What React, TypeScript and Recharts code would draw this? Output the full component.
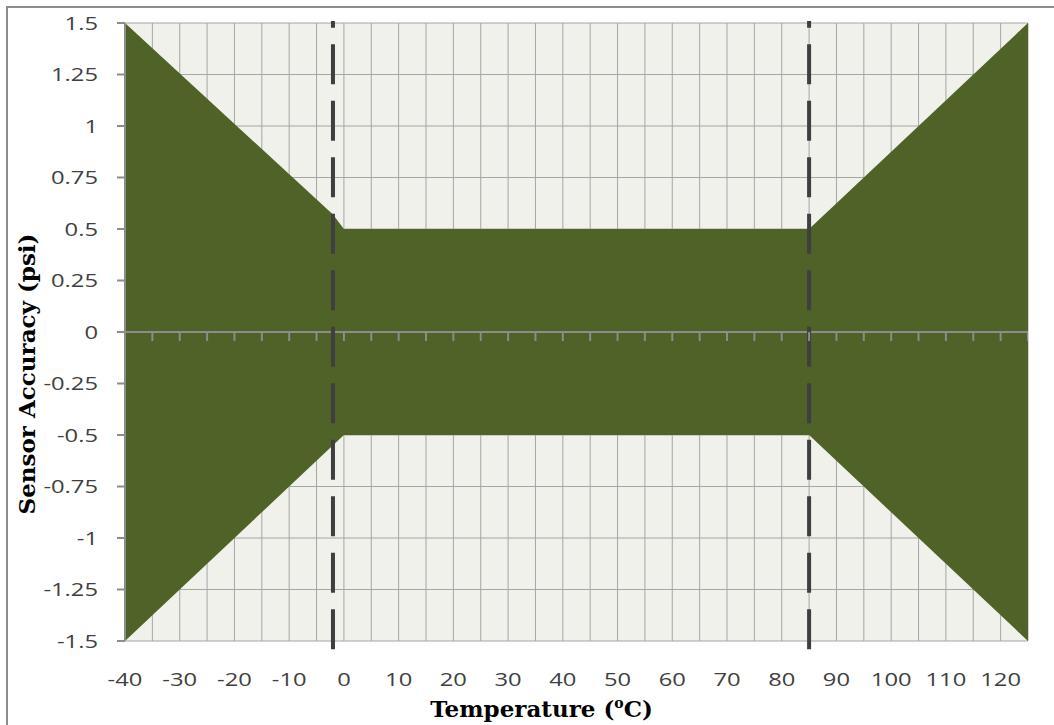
import {
  ComposedChart,
  Area,
  Scatter,
  XAxis,
  YAxis,
  CartesianGrid,
  ReferenceLine,
  Label,
} from 'recharts'

// temperature breakpoints (°C) and the accuracy band (psi)
const temps = [-40, -2, 0, 85, 125]
const upperLimit = [1.5, 0.57, 0.5, 0.5, 1.5]
const lowerLimit = [-1.5, -0.55, -0.5, -0.5, -1.5]

const xTicks = [
  -40, -35, -30, -25, -20, -15, -10, -5, 0, 5, 10, 15, 20, 25, 30, 35, 40, 45, 50, 55, 60,
  65, 70, 75, 80, 85, 90, 95, 100, 105, 110, 115, 120, 125,
]
const yTicks = [-1.5, -1.25, -1, -0.75, -0.5, -0.25, 0, 0.25, 0.5, 0.75, 1, 1.25, 1.5]

// operating range markers
const limitTemps = [-2, 85]
const limitSpan = [-1.54, 1.51]

const bandData = temps.map((t, i) => ({ temp: t, band: [lowerLimit[i], upperLimit[i]] }))
const zeroTickData = xTicks.map((t) => ({ temp: t, zero: 0 }))

// the source font is drawn wide, so stretch the tick text a little
function TickText({ x, y, anchor, dy, text }: any) {
  return (
    <text
      x={0}
      y={0}
      dy={dy}
      transform={`translate(${x},${y}) scale(1.25,1)`}
      textAnchor={anchor}
      fill="#404040"
      fontFamily="Open Sans"
      fontSize={19}
    >
      {text}
    </text>
  )
}

function XTick(props: any) {
  const v = props.payload.value
  if (v % 10 !== 0 || v > 120) return null
  return <TickText x={props.x} y={props.y} anchor="middle" dy="0.71em" text={String(v)} />
}

function YTick(props: any) {
  return <TickText x={props.x} y={props.y} anchor="end" dy="0.355em" text={String(props.payload.value)} />
}

function XTitle(props: any) {
  const vb = props.viewBox || { x: 125, y: 641, width: 903 }
  return (
    <text
      x={vb.x + vb.width / 2 - 35}
      y={vb.y + 76}
      textAnchor="middle"
      fontFamily="DejaVu Serif"
      fontWeight="bold"
      fontSize={23}
      fill="#000"
    >
      Temperature (
      <tspan dy={-9} fontSize={14}>
        o
      </tspan>
      <tspan dy={9}>C)</tspan>
    </text>
  )
}

function YTitle(props: any) {
  const vb = props.viewBox || { x: 25, y: 23, height: 618 }
  const cx = vb.x + 1
  const cy = vb.y + vb.height / 2 + 42
  return (
    <text
      x={cx}
      y={cy}
      transform={`rotate(-90, ${cx}, ${cy})`}
      textAnchor="middle"
      dominantBaseline="central"
      fontFamily="DejaVu Serif"
      fontWeight="bold"
      fontSize={23}
      fill="#000"
    >
      Sensor Accuracy (psi)
    </text>
  )
}

export default function App() {
  return (
    <div style={{ position: 'relative', width: 1054, height: 725, overflow: 'hidden', background: '#fff' }}>
      <style>{'body{margin:0;overflow:hidden}'}</style>
      <div
        style={{
          position: 'absolute',
          left: 6,
          top: 6,
          width: 1200,
          height: 900,
          borderTop: '2px solid #8c8c8c',
          borderLeft: '2px solid #8c8c8c',
        }}
      />
      <div style={{ position: 'absolute', left: 0, top: 0 }}>
        <ComposedChart width={1054} height={725} margin={{ top: 23, right: 26, left: 25, bottom: 0 }}>
          <CartesianGrid stroke="#a6a6a6" fill="#eff1ea" fillOpacity={1} />
          <XAxis
            dataKey="temp"
            type="number"
            domain={[-40, 125]}
            allowDataOverflow
            ticks={xTicks}
            interval={0}
            height={84}
            axisLine={false}
            tickLine={false}
            tickSize={6}
            tickMargin={25}
            tick={<XTick />}
          >
            <Label content={XTitle} />
          </XAxis>
          <YAxis
            type="number"
            domain={[-1.5, 1.5]}
            allowDataOverflow
            ticks={yTicks}
            interval={0}
            width={100}
            axisLine={{ stroke: '#8c8c8c', strokeWidth: 2 }}
            tickLine={{ stroke: '#8c8c8c', strokeWidth: 2 }}
            tickSize={8}
            tickMargin={19}
            tick={<YTick />}
          >
            <Label content={YTitle} />
          </YAxis>
          <Area
            data={bandData}
            dataKey="band"
            type="linear"
            stroke="none"
            fill="#4f6228"
            fillOpacity={1}
            isAnimationActive={false}
          />
          <ReferenceLine y={0} stroke="#8c8c8c" strokeWidth={2} />
          <Scatter
            data={zeroTickData}
            dataKey="zero"
            isAnimationActive={false}
            shape={(p: any) => (
              <line x1={p.cx} y1={p.cy} x2={p.cx} y2={p.cy + 9} stroke="#8c8c8c" strokeWidth={2} />
            )}
          />
          {limitTemps.map((t) => (
            <ReferenceLine
              key={t}
              segment={[
                { x: t, y: limitSpan[0] },
                { x: t, y: limitSpan[1] },
              ]}
              ifOverflow="visible"
              stroke="#3f3f3f"
              strokeWidth={4}
              strokeDasharray="40 16.5"
            />
          ))}
        </ComposedChart>
      </div>
    </div>
  )
}
